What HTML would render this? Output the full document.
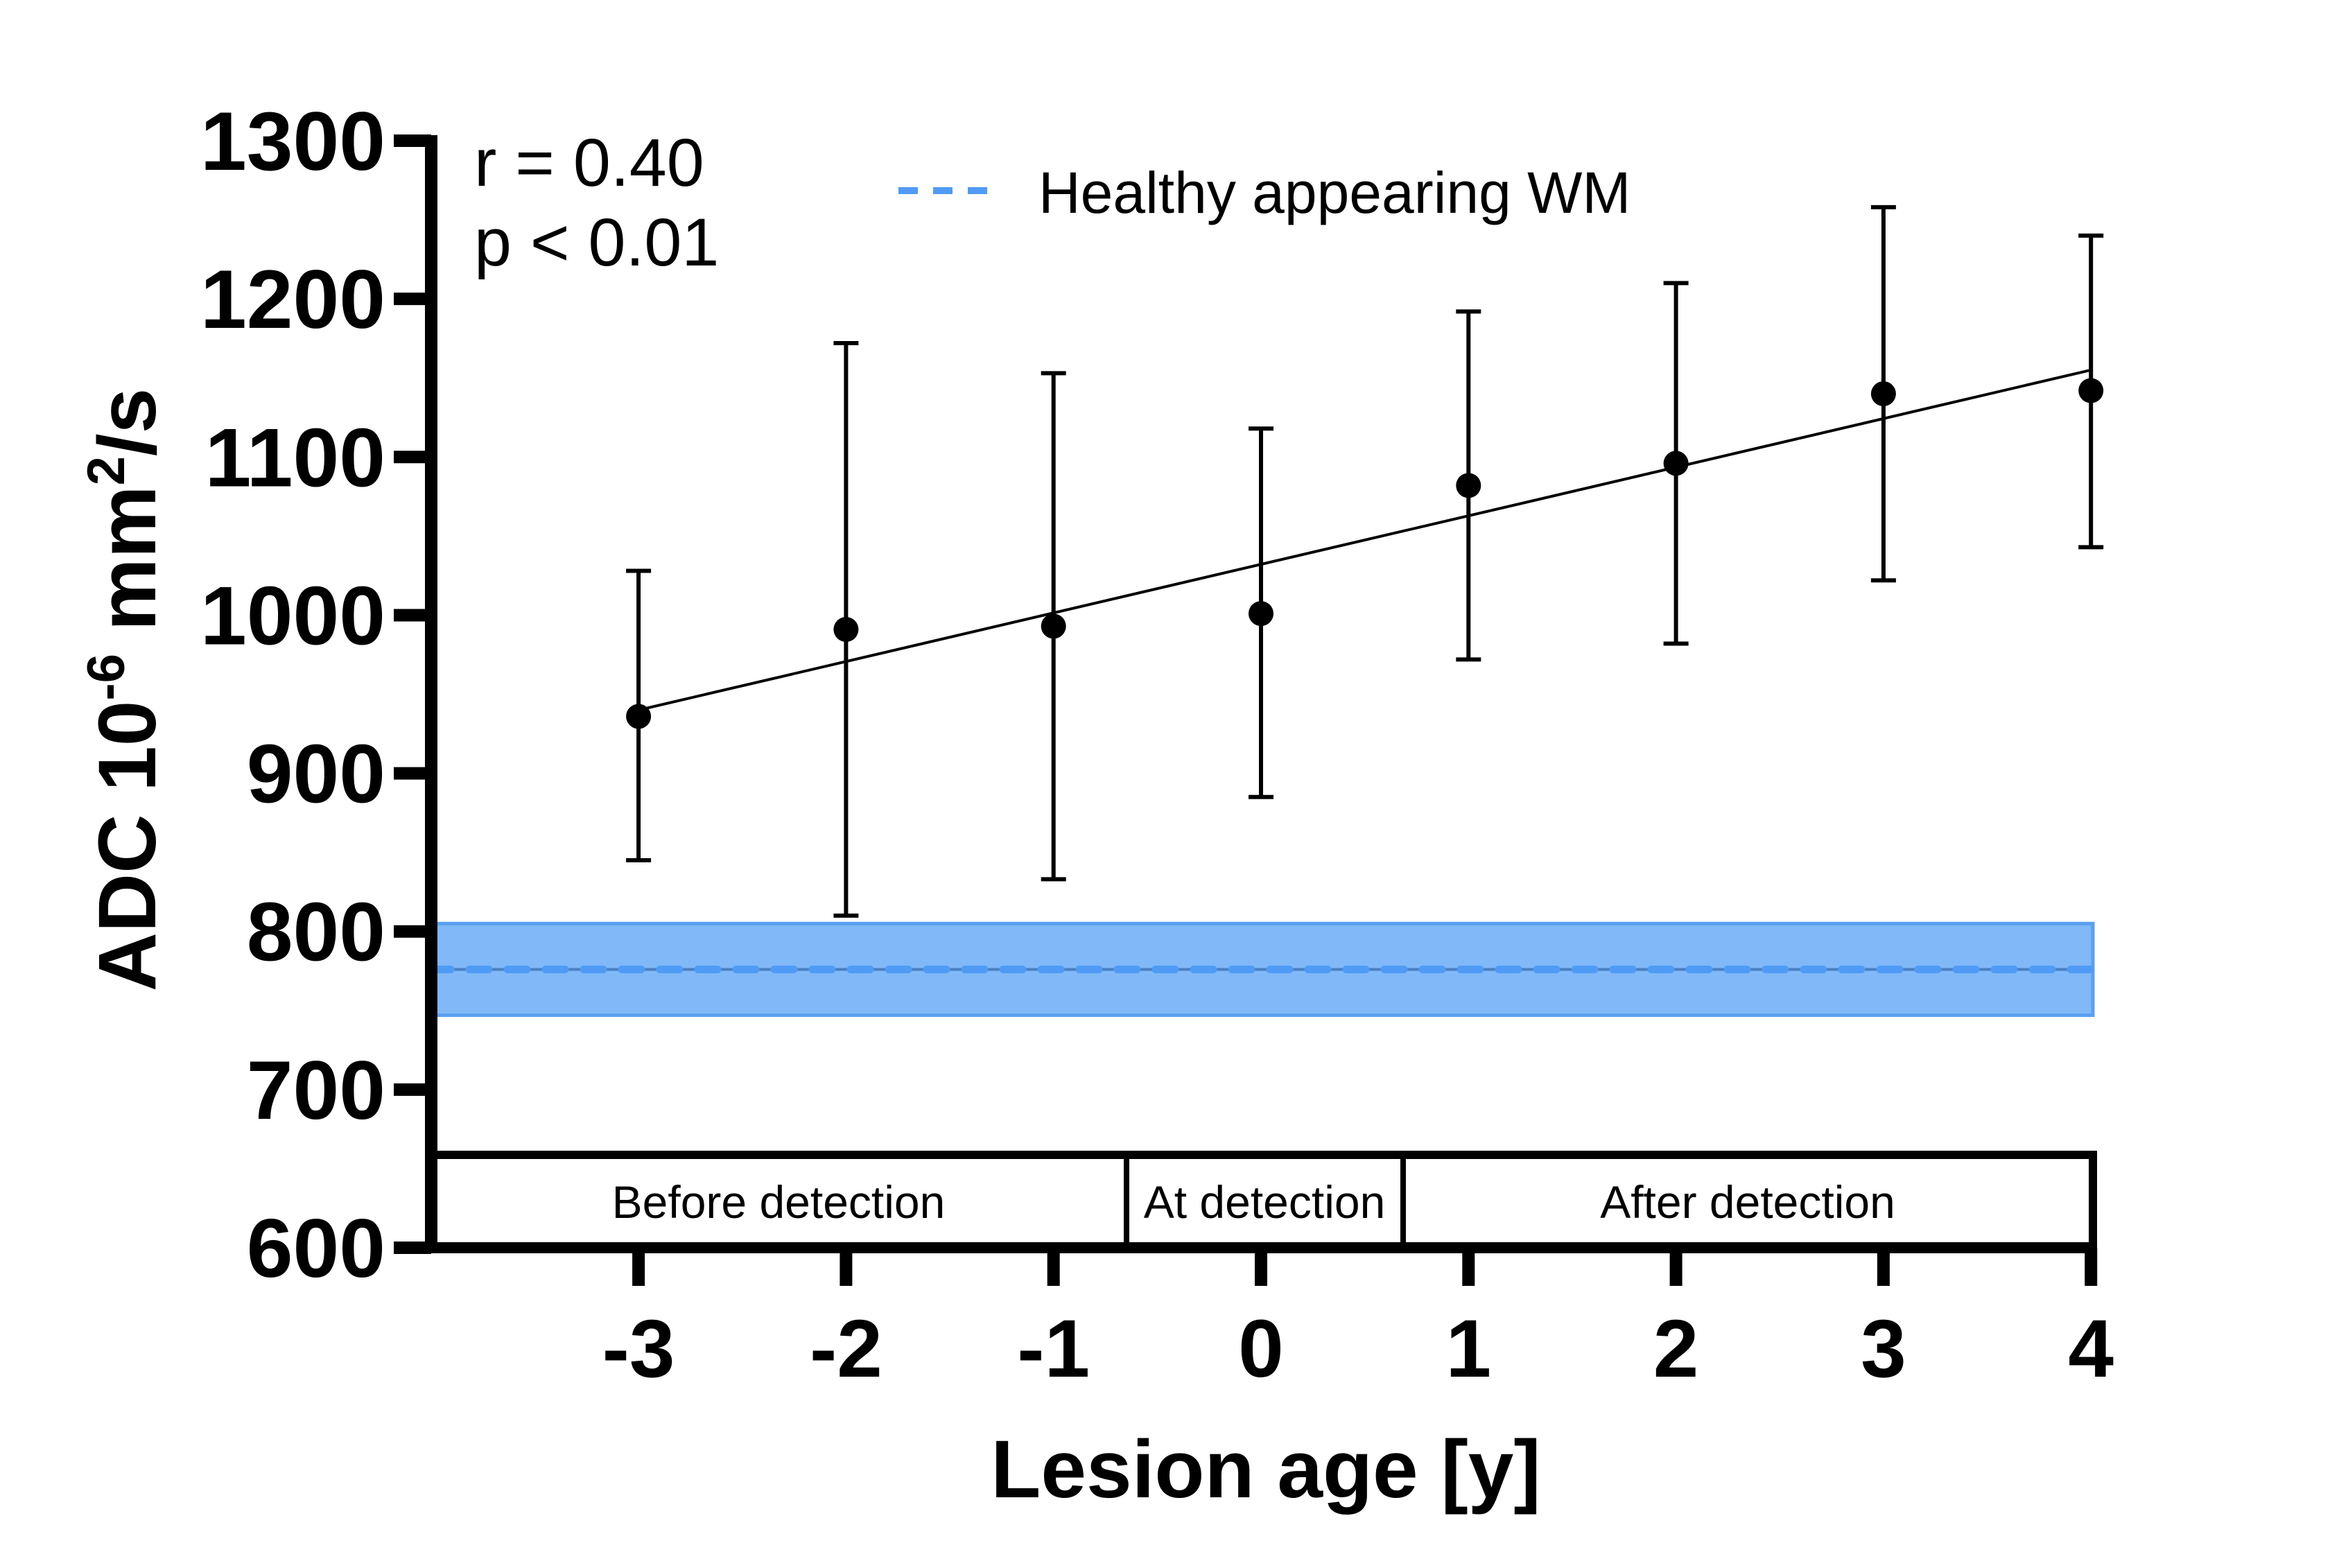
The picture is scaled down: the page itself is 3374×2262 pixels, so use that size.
<!DOCTYPE html>
<html><head><meta charset="utf-8"><style>
html,body{margin:0;padding:0;background:#fff;}
svg{display:block;}
text{font-family:"Liberation Sans",Arial,sans-serif;}
</style></head><body>
<svg id="chart" width="3374" height="2262" viewBox="0 0 3374 2262" xmlns="http://www.w3.org/2000/svg">
<g id="band"></g>
<g id="marks"></g>
<g id="axes"></g>
<g id="labels"></g>
</svg>
<script>
const xCats = [-3,-2,-1,0,1,2,3,4];
const means = [936,991,993,1001,1082,1096,1140,1142];
const errLow = [845,810,833,885,972,982,1022,1043];
const errHigh = [1028,1172,1153,1118,1192,1210,1258,1240];
const fitStart = [-3,940];
const fitEnd = [4,1155];
const bandVals = [747,776,805];
const yTicks = [600,700,800,900,1000,1100,1200,1300];
const xTickLabels = ["-3","-2","-1","0","1","2","3","4"];
const phases = ["Before detection","At detection","After detection"];

const NS="http://www.w3.org/2000/svg";
function X(v){return 1819+v*299.3;}
function Y(v){return 1800-(v-600)*2.2814;}
function mk(tag,attrs,parent,txt){const e=document.createElementNS(NS,tag);for(const k in attrs)e.setAttribute(k,attrs[k]);if(txt!==undefined)e.textContent=txt;parent.appendChild(e);return e;}
const band=document.getElementById('band'),marks=document.getElementById('marks'),axes=document.getElementById('axes'),labels=document.getElementById('labels');
const AX=622, XEND=3025, BANDEND=3019;

let r=mk('rect',{x:AX,y:Y(bandVals[2]),width:BANDEND-AX,height:Y(bandVals[0])-Y(bandVals[2]),fill:'#80b8f8',stroke:'#5aa0f0','stroke-width':5},band);


let l=mk('line',{x1:AX,x2:BANDEND,y1:Y(bandVals[1]),y2:Y(bandVals[1]),stroke:'#4a7fc0','stroke-width':4},band);


l=mk('line',{x1:AX,x2:BANDEND,y1:Y(bandVals[1]),y2:Y(bandVals[1]),stroke:'#4f9bf5','stroke-width':11,'stroke-dasharray':'28 27','stroke-linecap':'round'},band);



l=mk('line',{x1:X(fitStart[0]),y1:Y(fitStart[1]),x2:X(fitEnd[0]),y2:Y(fitEnd[1]),stroke:'#000','stroke-width':4},marks);



xCats.forEach((c,i)=>{
  const x=X(c);
  const g=mk('g',{},marks);
  
  
  mk('line',{x1:x,x2:x,y1:Y(errLow[i]),y2:Y(errHigh[i]),stroke:'#000','stroke-width':6},g);
  mk('line',{x1:x-18,x2:x+18,y1:Y(errLow[i]),y2:Y(errLow[i]),stroke:'#000','stroke-width':6},g);
  mk('line',{x1:x-18,x2:x+18,y1:Y(errHigh[i]),y2:Y(errHigh[i]),stroke:'#000','stroke-width':6},g);
  mk('circle',{cx:x,cy:Y(means[i]),r:18,fill:'#000'},g);
});

const bx=mk('g',{},axes);


mk('line',{x1:AX,x2:3025,y1:1666,y2:1666,stroke:'#000','stroke-width':12},bx);
mk('line',{x1:3019,x2:3019,y1:1660,y2:1800,stroke:'#000','stroke-width':12},bx);
[1625,2024].forEach(px=>mk('line',{x1:px,x2:px,y1:1666,y2:1800,stroke:'#000','stroke-width':8},bx));
const phaseCenters=[1123,1824,2521];
phases.forEach((p,i)=>{
  const t=mk('text',{x:phaseCenters[i],y:1757,'font-size':66,'text-anchor':'middle',fill:'#000'},labels,p);
  
  
});

l=mk('line',{x1:AX,x2:AX,y1:195,y2:1808,stroke:'#000','stroke-width':18},axes);


l=mk('line',{x1:613,x2:XEND,y1:1800,y2:1800,stroke:'#000','stroke-width':16},axes);


yTicks.forEach(v=>{
  const y=Y(v);
  const tk=mk('line',{x1:568,x2:AX,y1:y,y2:y,stroke:'#000','stroke-width':18},axes);
  
  
  const t=mk('text',{x:556,y:y+42,'font-size':120,'font-weight':'bold','text-anchor':'end',fill:'#000'},labels,String(v));
  
  
});
xCats.forEach((c,i)=>{
  const x=X(c);
  const tk=mk('line',{x1:x,x2:x,y1:1800,y2:1855,stroke:'#000','stroke-width':18},axes);
  
  
  const t=mk('text',{x:x,y:1986,'font-size':118,'font-weight':'bold','text-anchor':'middle',fill:'#000'},labels,xTickLabels[i]);
  
  
});
</script>
<svg style="position:absolute;left:0;top:0" width="3374" height="2262" xmlns="http://www.w3.org/2000/svg">
<text x="1826" y="2160" font-size="118" font-weight="bold" text-anchor="middle" font-family="Liberation Sans, sans-serif">Lesion age [y]</text>
<text transform="translate(224,995) rotate(-90)" font-size="118" font-weight="bold" text-anchor="middle" font-family="Liberation Sans, sans-serif">ADC 10<tspan dy="-45" font-size="76">-6</tspan><tspan dy="45"> mm</tspan><tspan dy="-45" font-size="76">2</tspan><tspan dy="45">/s</tspan></text>
<text x="684" y="268" font-size="97" font-family="Liberation Sans, sans-serif">r = 0.40</text>
<text x="684" y="383" font-size="97" font-family="Liberation Sans, sans-serif">p &lt; 0.01</text>
<line x1="1296" x2="1428" y1="275" y2="275" stroke="#4f9bf5" stroke-width="10" stroke-dasharray="28 22"/>
<text x="1498" y="307" font-size="84" font-family="Liberation Sans, sans-serif">Healthy appearing WM</text>
</svg>
</body></html>
